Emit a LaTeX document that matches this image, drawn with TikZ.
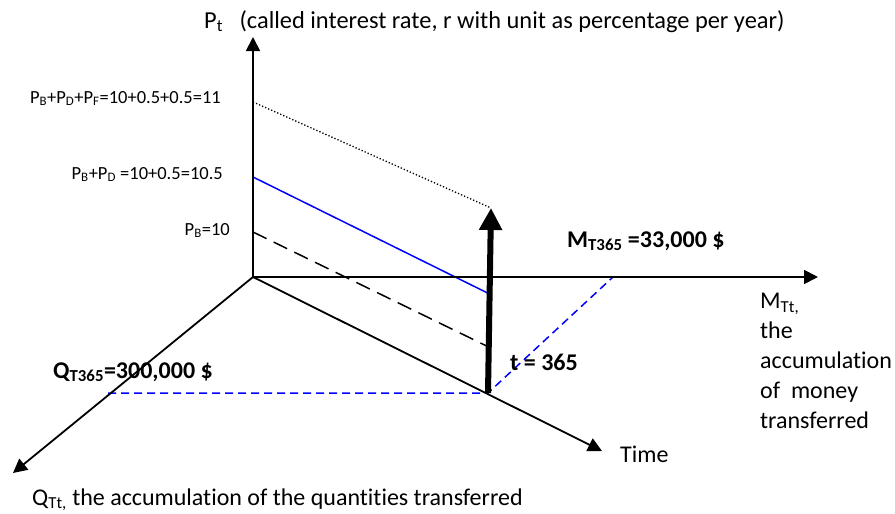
\documentclass[tikz,border=0pt]{standalone}
\usepackage{fontspec}
\setmainfont{Carlito}[Ligatures=NoCommon]
\usetikzlibrary{arrows.meta}
\begin{document}
\begin{tikzpicture}[x=1pt,y=-1pt,
 axis/.style={line width=1.8pt,-{Triangle[width=14pt,length=14pt]}},
 lbl/.style={inner sep=0pt, font=\fontsize{24}{30}\selectfont},
 small/.style={inner sep=0pt, font=\fontsize{18.5}{23}\selectfont, anchor=base east},
 boldlbl/.style={inner sep=0pt, font=\fontsize{24}{30}\selectfont\bfseries, anchor=base west},
 bigarrow/.style={line width=6pt,-{Triangle[width=22pt,length=22pt]}},
 dotline/.style={line width=1.3pt,dotted},
 blueline/.style={line width=1.5pt,blue},
 dashline/.style={line width=1.5pt,dash pattern=on 15pt off 8pt},
 bluedash/.style={line width=1.5pt,blue,dash pattern=on 8pt off 5pt}]
\useasboundingbox (0,0) rectangle (895,514);
\coordinate (O) at (253,277);
\coordinate (Ptip) at (253,37);
\coordinate (Mtip) at (818,277);
\coordinate (Ttip) at (602,451);
\coordinate (Qtip) at (13,473);
\coordinate (T365) at (488,393);
\coordinate (Top) at (491,208);
\coordinate (P11) at (253,102);
\coordinate (P105) at (253,177);
\coordinate (P10) at (253,232);
\coordinate (B105) at (489.6,294);
\coordinate (B10) at (488.7,347);
\coordinate (Q365) at (108,393);
\coordinate (M365) at (613,277);
% level lines
\draw[dotline] (P11) -- (Top);
\draw[blueline] (P105) -- (B105);
\draw[dashline] (P10) -- (B10);
\draw[bluedash] (Q365) -- (T365) -- (M365);
% axes
\draw[axis] (O) -- (Ptip);
\draw[axis] (O) -- (Mtip);
\draw[axis] (O) -- (Ttip);
\draw[axis] (O) -- (Qtip);
\draw[bigarrow] (T365) -- (Top);
% labels
\node[lbl, anchor=base west, font=\fontsize{24.4}{30}\selectfont] (ptl) at (204,28) {P\textsubscript{t}\ \ \ (called interest rate, r with unit as percentage per year)};
\node[small] (l11) at (221,103) {P\textsubscript{B}+P\textsubscript{D}+P\textsubscript{F}=10+0.5+0.5=11};
\node[small] (l105) at (223,179) {P\textsubscript{B}+P\textsubscript{D} =10+0.5=10.5};
\node[small] (l10) at (230,235) {P\textsubscript{B}=10};
\node[boldlbl] (mlbl) at (567,247) {M\textsubscript{T365} =33,000 \$};
\node[boldlbl] (qlbl) at (53,378) {Q\textsubscript{T365}=300,000 \$};
\node[boldlbl] (tlbl) at (510,370) {t = 365};
\node[lbl, anchor=north west, align=left] (maxis) at (760,293) {M\textsubscript{Tt,}\\the\\accumulation\\of\ \ money\\transferred};
\node[lbl, anchor=base west] (time) at (620,462) {Time};
\node[lbl, anchor=base west] (qaxis) at (32,505) {Q\textsubscript{Tt,} the accumulation of the quantities transferred};
\end{tikzpicture}
\end{document}
